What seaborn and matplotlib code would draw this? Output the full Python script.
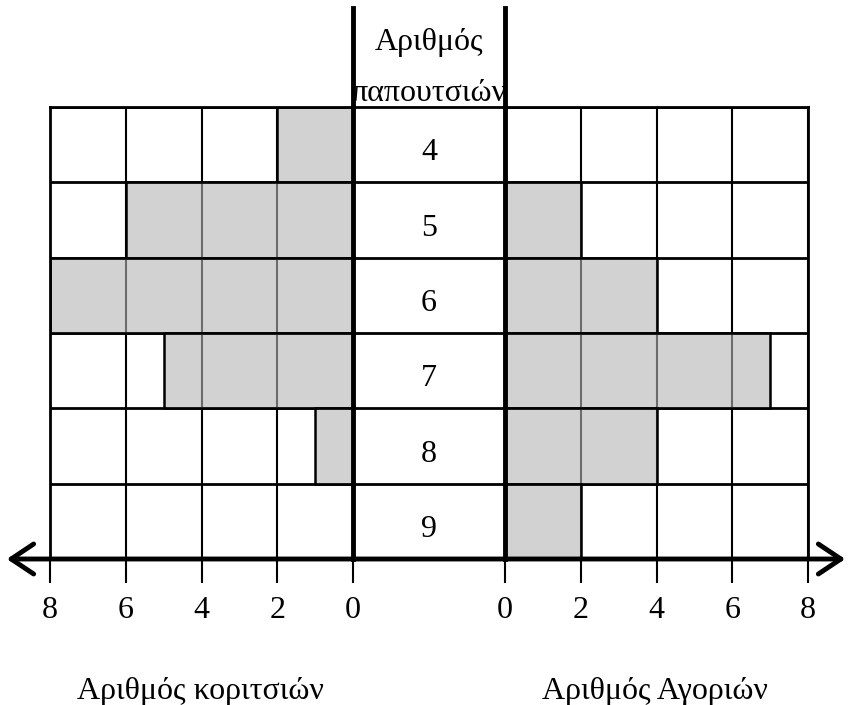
import pandas as pd
import numpy as np
import matplotlib.pyplot as plt
import seaborn as sns
from matplotlib.patches import FancyArrowPatch

sns.set_theme(style='white')
plt.rcParams['font.family'] = ['Liberation Serif', 'DejaVu Serif']
plt.rcParams['text.color'] = 'black'
plt.rcParams['xtick.color'] = 'black'
plt.rcParams['xtick.labelcolor'] = 'black'

# Data
sizes = ['4', '5', '6', '7', '8', '9']
girls = [2, 6, 8, 5, 1, 0]
boys = [0, 2, 4, 7, 4, 2]
xticks = [0, 2, 4, 6, 8]

df = pd.DataFrame({'size': sizes, 'girls': girls, 'boys': boys})

W, H = 848, 705
fig = plt.figure(figsize=(W / 100, H / 100), dpi=100)


def fx(px):
    return px / W


def fy(py):
    return 1 - py / H


FS = 23
bar_face = (0.71, 0.71, 0.71, 0.6)

ax_l = fig.add_axes([fx(50), fy(559), fx(303), 452 / H])
ax_r = fig.add_axes([fx(505), fy(559), fx(303), 452 / H])
ax_m = fig.add_axes([fx(353), fy(559), fx(152), 551 / H])

for ax, col, flip in [(ax_l, 'girls', True), (ax_r, 'boys', False)]:
    sns.barplot(data=df, x=col, y='size', orient='h', ax=ax, width=1,
                edgecolor='black', linewidth=1.8)
    for p in ax.patches:
        p.set_facecolor(bar_face)
        p.set_zorder(2)
    ax.set_xlim((8, 0) if flip else (0, 8))
    ax.set_ylim(5.5, -0.5)
    ax.set_xticks(xticks)
    ax.set_xticklabels([str(t) for t in xticks], fontsize=FS, color='black')
    ax.set_yticks([])
    ax.set_yticks(np.arange(-0.5, 5.0, 1), minor=True)
    ax.tick_params(axis='x', direction='out', length=17, width=1.5,
                   color='black', pad=10, bottom=True)
    ax.tick_params(axis='y', which='minor', length=0)
    ax.grid(True, axis='x', color='black', linewidth=1.5)
    ax.grid(True, axis='y', which='minor', color='black', linewidth=2)
    ax.set_axisbelow(True)
    ax.set_xlabel('')
    ax.set_ylabel('')
    for s in ax.spines.values():
        s.set_color('black')
        s.set_linewidth(2)
    ax.spines['bottom'].set_visible(False)
    ax.spines['right' if flip else 'left'].set_visible(False)

# middle column
ax_m.set_xlim(0, 1)
top = -0.5 - 99 / (452 / 6)
ax_m.set_ylim(5.5, top)
ax_m.set_xticks([])
ax_m.set_yticks([])
ax_m.set_facecolor('none')
for y in np.arange(-0.5, 5.0, 1):
    ax_m.axhline(y, color='black', linewidth=2)
for i, s in enumerate(sizes):
    ax_m.text(0.5, i + 0.11, s, ha='center', va='center', fontsize=FS,
              color='black')
ax_m.text(0.5, -1.36, 'Αριθμός', ha='center', va='center', fontsize=FS,
          color='black')
ax_m.text(0.5, -0.68, 'παπουτσιών', ha='center', va='center', fontsize=FS,
          color='black')
for k in ['top', 'bottom']:
    ax_m.spines[k].set_visible(False)
for k in ['left', 'right']:
    ax_m.spines[k].set_color('black')
    ax_m.spines[k].set_linewidth(3.5)

# horizontal axis with arrows
arrow = FancyArrowPatch((fx(4), fy(559)), (fx(848), fy(559)),
                        transform=fig.transFigure,
                        arrowstyle='<->,head_length=0.9,head_width=0.6',
                        mutation_scale=18, linewidth=3.5, color='black')
fig.add_artist(arrow)

fig.text(fx(200), fy(691), 'Αριθμός κοριτσιών', ha='center', va='center',
         fontsize=FS, color='black')
fig.text(fx(655), fy(691), 'Αριθμός Αγοριών', ha='center', va='center',
         fontsize=FS, color='black')

fig.savefig('out.png', dpi=100, facecolor='white')
